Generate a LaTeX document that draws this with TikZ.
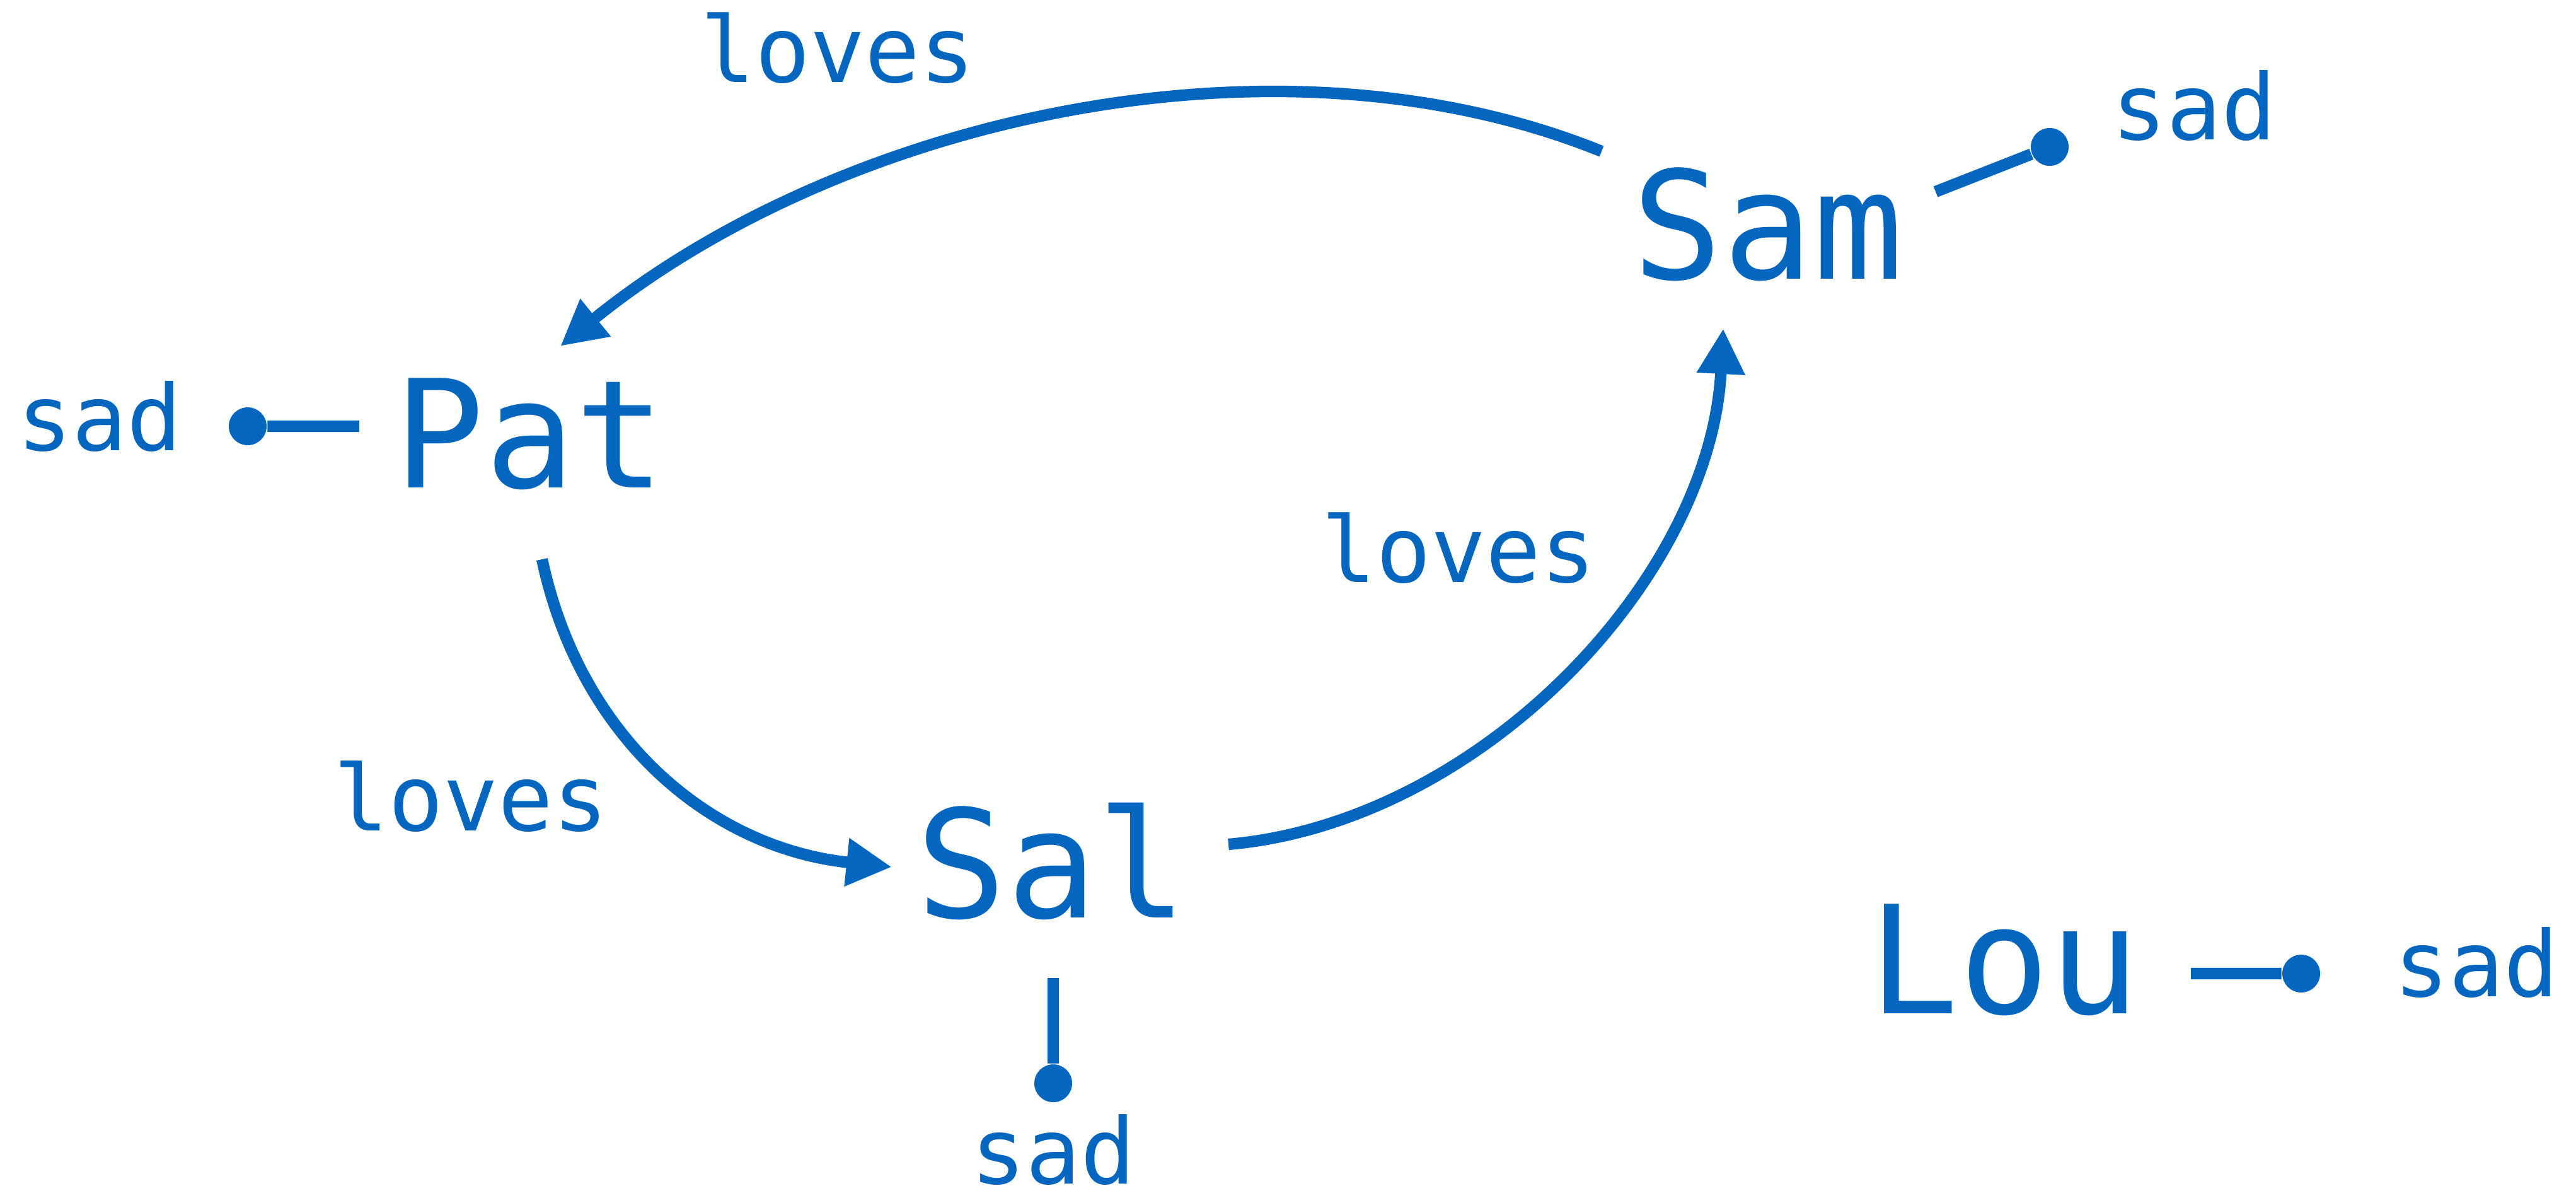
\documentclass[tikz,border=0pt]{standalone}
\usepackage{fontspec}
\setmonofont{DejaVu Sans Mono}
\usetikzlibrary{arrows.meta}
\definecolor{ink}{RGB}{5,102,192}
\tikzstyle{person}=[font=\ttfamily\fontsize{33.9}{40}\selectfont,text=ink,anchor=base,inner sep=0pt]
\tikzstyle{mood}=[font=\ttfamily\fontsize{20.6}{24}\selectfont,text=ink,anchor=base,inner sep=0pt]
\tikzstyle{blob}=[circle,fill=ink,minimum size=0.3cm,inner sep=0pt]
\tikzstyle{moodedge}=[draw=ink,line width=2.6pt]
\tikzstyle{lovesedge}=[draw=ink,line width=2.6pt,-{Triangle[length=0.36cm,width=0.36cm]}]

\begin{document}
\begin{tikzpicture}
    \useasboundingbox (0,0) rectangle (20.435,9.455);
    % First the people
    \foreach \pos/ \name in {{(4.205,5.59)/Pat},{(14.025,7.245)/Sam},{(8.345,2.18)/Sal},{(15.9,1.42)/Lou}}
        \node[person] (\name) at \pos {\name};

    % their moods: dot and label
    \foreach \pos/ \name in {{(1.965,6.075)/Pat},{(16.26,8.29)/Sam},{(8.355,0.865)/Sal},{(18.255,1.735)/Lou}}
        \node[blob] (\name-dot) at \pos {};
    \foreach \pos/ \name in {{(0.79,5.885)/Pat},{(17.405,8.35)/Sam},{(8.355,0.07)/Sal},{(19.645,1.555)/Lou}}
        \node[mood] (\name-sad) at \pos {sad};

    % labels of the loves edges
    \foreach \pos/ \name in {{(6.645,8.805)/top},{(3.735,2.87)/left},{(11.57,4.84)/right}}
        \node[mood] (loves-\name) at \pos {loves};

    % Connect people to their mood
    \foreach \name/ \off in {Pat/{-1.355,0.485},Sam/{1.33,0.69},Sal/{0.01,-0.48},Lou/{1.48,0.315}}
        \path[moodedge] ([shift={(\off)}]\name.base) -- (\name-dot);

    % Who loves whom
    \path[lovesedge] ([shift={(-1.32,1.01)}]Sam.base) to[out=158,in=39,looseness=0.86] ([shift={(0.24,1.12)}]Pat.base);
    \path[lovesedge] ([shift={(0.095,-0.57)}]Pat.base) to[out=-78,in=174] ([shift={(-1.27,0.40)}]Sal.base);
    \path[lovesedge] ([shift={(1.40,0.58)}]Sal.base) to[out=5,in=-93,looseness=0.9] ([shift={(-0.355,-0.395)}]Sam.base);

\end{tikzpicture}
\end{document}
